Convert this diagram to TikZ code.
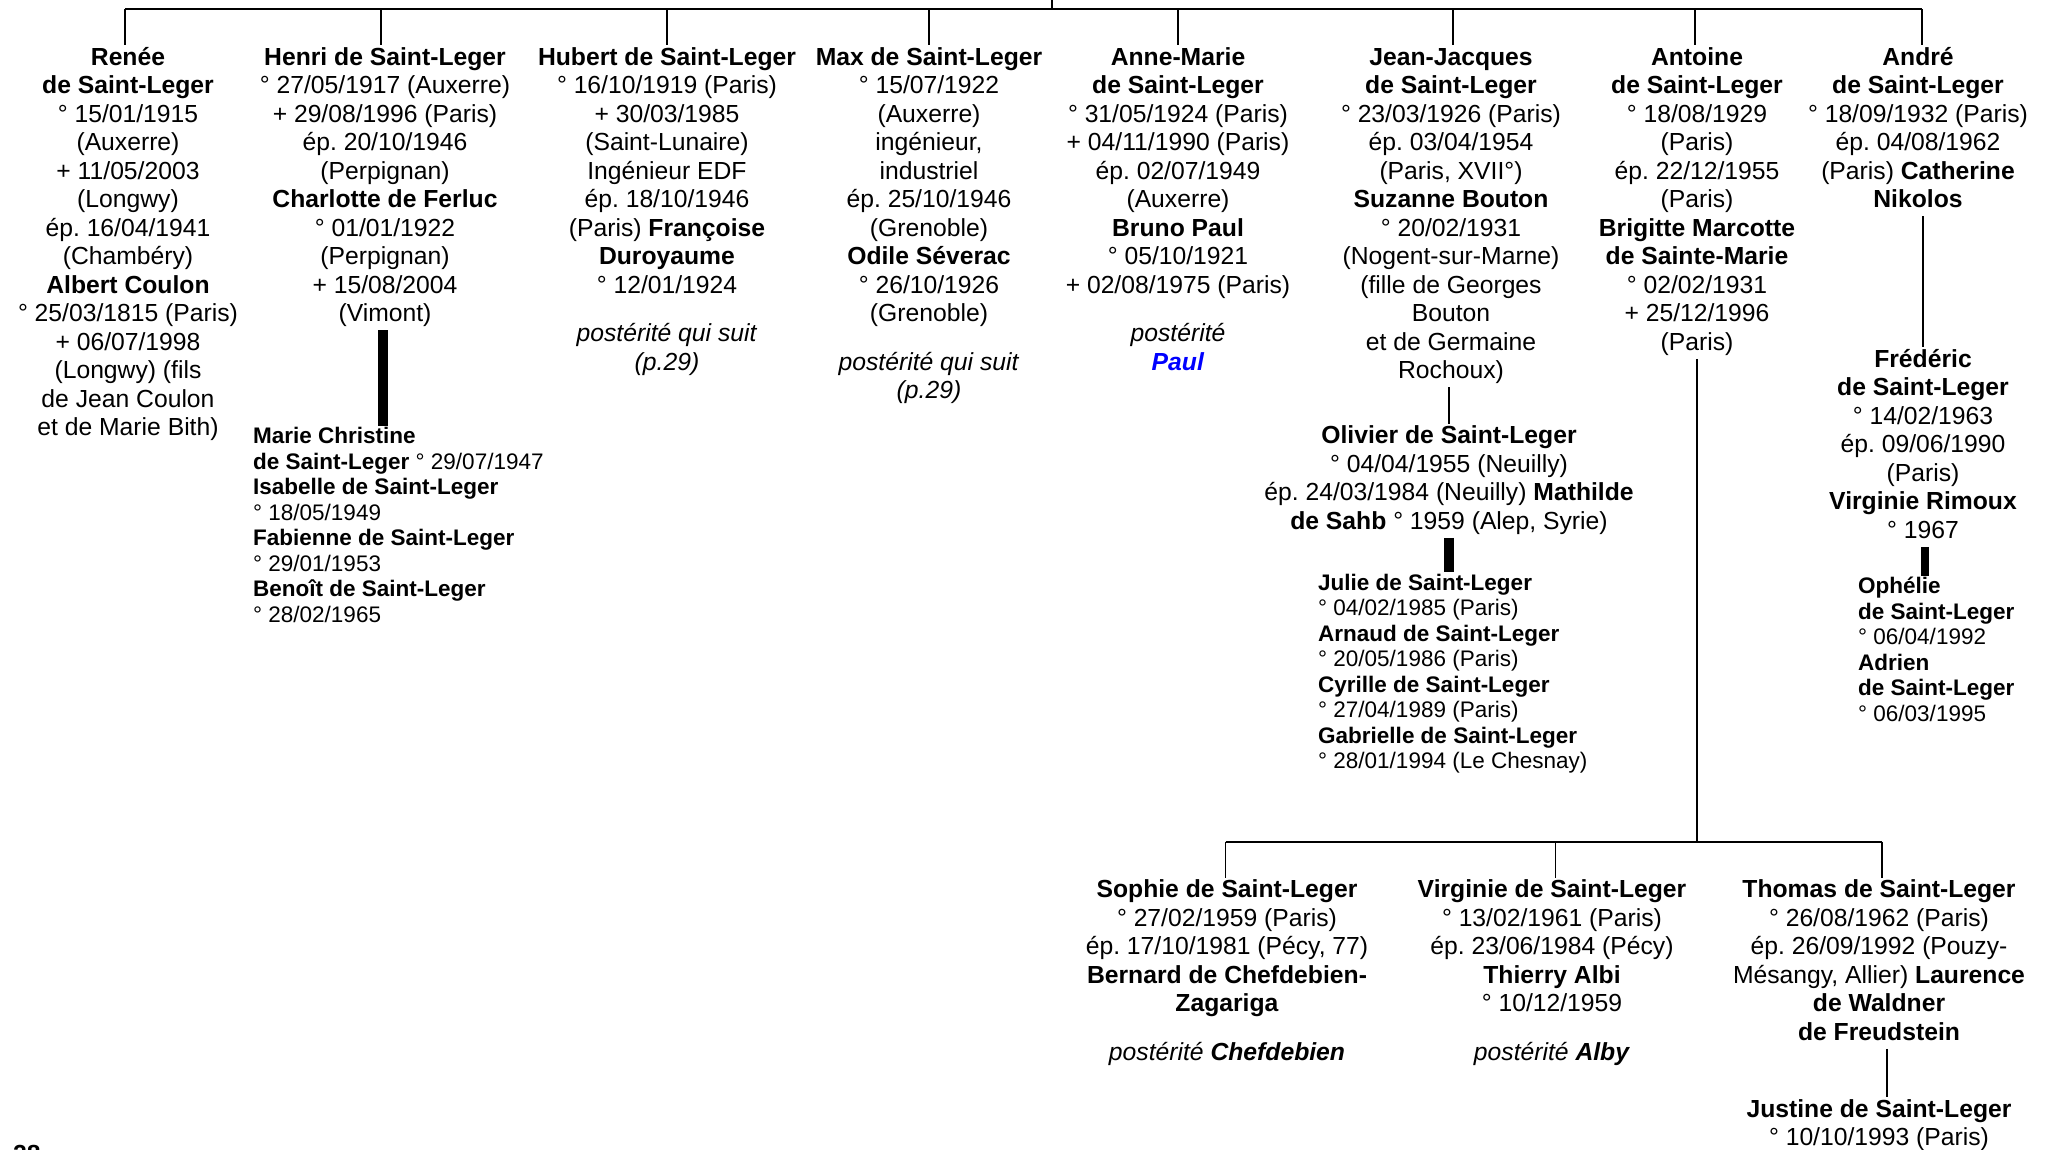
\documentclass[tikz,border=0pt]{standalone}
\usepackage{fontspec}
\setmainfont{Liberation Sans}
\frenchspacing
\begin{document}
\begin{tikzpicture}[x=1pt,y=1pt]
            \tikzstyle{every node}+=[inner sep=0pt]
            \tikzstyle{person}=[anchor=north,align=center,font=\fontsize{24.7}{28.5}\selectfont]
            \tikzstyle{kids}=[anchor=north west,align=left,font=\fontsize{22.5}{25.5}\selectfont]
            \tikzstyle{link}=[black,line width=1.8pt]
            \tikzstyle{thickbar}=[black,line width=10.5pt]
            \useasboundingbox (0,0) rectangle (2051,-1149);
            \node [person] (renee) at (128,-45) {\strut\textbf{Renée}\\\textbf{de Saint-Leger}\\° 15/01/1915\\(Auxerre)\\+ 11/05/2003\\(Longwy)\\ép. 16/04/1941\\(Chambéry)\\\textbf{Albert Coulon}\\° 25/03/1815 (Paris)\\+ 06/07/1998\\(Longwy) (fils\\de Jean Coulon\\et de Marie Bith)\strut};
            \node [person] (henri) at (385,-45) {\strut\textbf{Henri de Saint-Leger}\\° 27/05/1917 (Auxerre)\\+ 29/08/1996 (Paris)\\ép. 20/10/1946\\(Perpignan)\\\textbf{Charlotte de Ferluc}\\° 01/01/1922\\(Perpignan)\\+ 15/08/2004\\(Vimont)\strut};
            \node [person] (hubert) at (667,-45) {\strut\textbf{Hubert de Saint-Leger}\\° 16/10/1919 (Paris)\\+ 30/03/1985\\(Saint-Lunaire)\\Ingénieur EDF\\ép. 18/10/1946\\(Paris) \textbf{Françoise}\\\textbf{Duroyaume}\\° 12/01/1924\\[20pt]\textit{postérité qui suit}\\\textit{(p.29)}\strut};
            \node [person] (max) at (929,-45) {\strut\textbf{Max de Saint-Leger}\\° 15/07/1922\\(Auxerre)\\ingénieur,\\industriel\\ép. 25/10/1946\\(Grenoble)\\\textbf{Odile Séverac}\\° 26/10/1926\\(Grenoble)\\[20pt]\textit{postérité qui suit}\\\textit{(p.29)}\strut};
            \node [person] (annemarie) at (1178,-45) {\strut\textbf{Anne-Marie}\\\textbf{de Saint-Leger}\\° 31/05/1924 (Paris)\\+ 04/11/1990 (Paris)\\ép. 02/07/1949\\(Auxerre)\\\textbf{Bruno Paul}\\° 05/10/1921\\+ 02/08/1975 (Paris)\\[20pt]\textit{postérité}\\\textcolor{blue}{\textbf{\textit{Paul}}}\strut};
            \node [person] (jeanjacques) at (1451,-45) {\strut\textbf{Jean-Jacques}\\\textbf{de Saint-Leger}\\° 23/03/1926 (Paris)\\ép. 03/04/1954\\(Paris, XVII°)\\\textbf{Suzanne Bouton}\\° 20/02/1931\\(Nogent-sur-Marne)\\(fille de Georges\\Bouton\\et de Germaine\\Rochoux)\strut};
            \node [person] (antoine) at (1697,-45) {\strut\textbf{Antoine}\\\textbf{de Saint-Leger}\\° 18/08/1929\\(Paris)\\ép. 22/12/1955\\(Paris)\\\textbf{Brigitte Marcotte}\\\textbf{de Sainte-Marie}\\° 02/02/1931\\+ 25/12/1996\\(Paris)\strut};
            \node [person] (andre) at (1918,-45) {\strut\textbf{André}\\\textbf{de Saint-Leger}\\° 18/09/1932 (Paris)\\ép. 04/08/1962\\(Paris) \textbf{Catherine}\\\textbf{Nikolos}\strut};
            \node [kids] (henrikids) at (253,-425.5) {\strut\textbf{Marie Christine}\\\textbf{de Saint-Leger} ° 29/07/1947\\\textbf{Isabelle de Saint-Leger}\\° 18/05/1949\\\textbf{Fabienne de Saint-Leger}\\° 29/01/1953\\\textbf{Benoît de Saint-Leger}\\° 28/02/1965\strut};
            \node [person] (olivier) at (1449,-423.5) {\strut\textbf{Olivier de Saint-Leger}\\° 04/04/1955 (Neuilly)\\ép. 24/03/1984 (Neuilly) \textbf{Mathilde}\\\textbf{de Sahb} ° 1959 (Alep, Syrie)\strut};
            \node [kids] (juliekids) at (1318,-572) {\strut\textbf{Julie de Saint-Leger}\\° 04/02/1985 (Paris)\\\textbf{Arnaud de Saint-Leger}\\° 20/05/1986 (Paris)\\\textbf{Cyrille de Saint-Leger}\\° 27/04/1989 (Paris)\\\textbf{Gabrielle de Saint-Leger}\\° 28/01/1994 (Le Chesnay)\strut};
            \node [person] (frederic) at (1923,-347) {\strut\textbf{Frédéric}\\\textbf{de Saint-Leger}\\° 14/02/1963\\ép. 09/06/1990\\(Paris)\\\textbf{Virginie Rimoux}\\° 1967\strut};
            \node [kids] (opheliekids) at (1858,-575.5) {\strut\textbf{Ophélie}\\\textbf{de Saint-Leger}\\° 06/04/1992\\\textbf{Adrien}\\\textbf{de Saint-Leger}\\° 06/03/1995\strut};
            \node [person] (sophie) at (1227,-877.5) {\strut\textbf{Sophie de Saint-Leger}\\° 27/02/1959 (Paris)\\ép. 17/10/1981 (Pécy, 77)\\\textbf{Bernard de Chefdebien-}\\\textbf{Zagariga}\\[20pt]\textit{postérité \textbf{Chefdebien}}\strut};
            \node [person] (virginie) at (1552,-877.5) {\strut\textbf{Virginie de Saint-Leger}\\° 13/02/1961 (Paris)\\ép. 23/06/1984 (Pécy)\\\textbf{Thierry Albi}\\° 10/12/1959\\[20pt]\textit{postérité \textbf{Alby}}\strut};
            \node [person] (thomas) at (1879,-877.5) {\strut\textbf{Thomas de Saint-Leger}\\° 26/08/1962 (Paris)\\ép. 26/09/1992 (Pouzy-\\Mésangy, Allier) \textbf{Laurence}\\\textbf{de Waldner}\\\textbf{de Freudstein}\strut};
            \node [person] (justine) at (1879,-1097) {\strut\textbf{Justine de Saint-Leger}\\° 10/10/1993 (Paris)\strut};
            \node [anchor=north west,font=\fontsize{24.7}{28.5}\selectfont\bfseries] (page) at (13,-1145) {28};
            \coordinate (parent) at (1052,0);
            \coordinate (top) at (1052,-9.3);
            \coordinate (fork) at (1699,-841.7);
            \draw [link] (parent) -- (top);
            \draw [link] ([xshift=-3]renee.north |- top) -- ([xshift=4]andre.north |- top);
            \draw [link] ([xshift=-3]renee.north |- top) -- ([xshift=-3]renee.north);
            \draw [link] ([xshift=-4]henri.north |- top) -- ([xshift=-4]henri.north);
            \draw [link] (hubert.north |- top) -- (hubert.north);
            \draw [link] (max.north |- top) -- (max.north);
            \draw [link] (annemarie.north |- top) -- (annemarie.north);
            \draw [link] ([xshift=2]jeanjacques.north |- top) -- ([xshift=2]jeanjacques.north);
            \draw [link] ([xshift=-2]antoine.north |- top) -- ([xshift=-2]antoine.north);
            \draw [link] ([xshift=4]andre.north |- top) -- ([xshift=4]andre.north);
            \draw [thickbar] ([xshift=-2]henri.south) -- ([xshift=-2]henri.south |- henrikids.north);
            \draw [link] (olivier.north |- jeanjacques.south) -- (olivier.north);
            \draw [thickbar] (olivier.south) -- (olivier.south |- juliekids.north);
            \draw [link] (frederic.north |- andre.south) -- (frederic.north);
            \draw [thickbar,line width=7.3pt] ([xshift=2]frederic.south) -- ([xshift=2]frederic.south |- opheliekids.north);
            \draw [link] (antoine.south) -- (antoine.south |- fork);
            \draw [link] ([xshift=-1.5]sophie.north |- fork) -- ([xshift=3]thomas.north |- fork);
            \draw [link] ([xshift=-1.5]sophie.north |- fork) -- ([xshift=-1.5]sophie.north);
            \draw [link] ([xshift=3.5]virginie.north |- fork) -- ([xshift=3.5]virginie.north);
            \draw [link] ([xshift=3]thomas.north |- fork) -- ([xshift=3]thomas.north);
            \draw [link] ([xshift=8]thomas.south) -- ([xshift=8]justine.north);
\end{tikzpicture}
\end{document}
